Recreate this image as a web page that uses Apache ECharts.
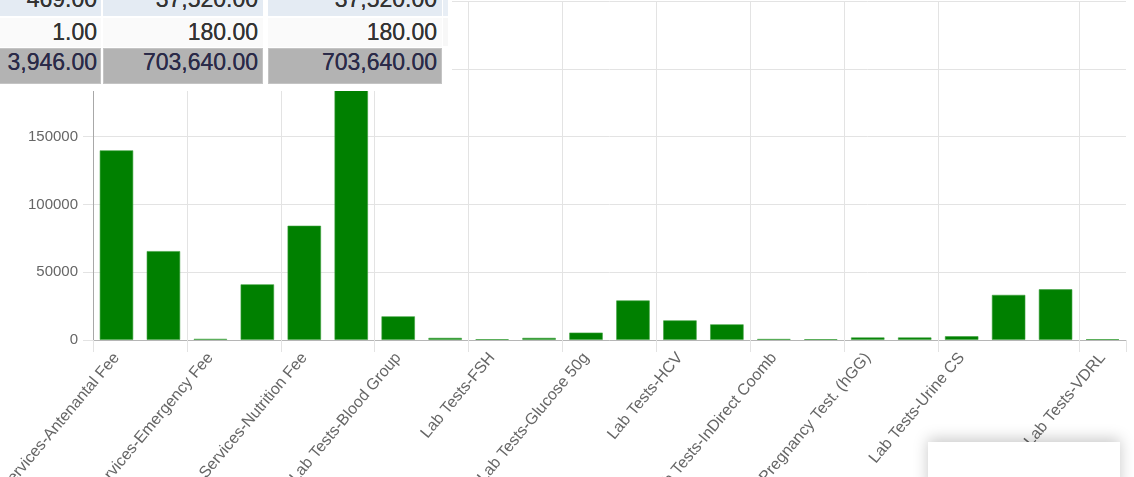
<!DOCTYPE html>
<html>
<head>
<meta charset="utf-8">
<script src="https://cdn.jsdelivr.net/npm/echarts@6/dist/echarts.min.js"></script>
<style>
  html, body { margin: 0; padding: 0; background: #fff; overflow: hidden; }
  #wrap { position: relative; width: 1134px; height: 477px; }
  #chart { position: absolute; left: 0; top: 0; width: 1134px; height: 477px; }
  #tbl { position: absolute; left: 0; top: 0; width: 452px; height: 91px; background: #fff; overflow: hidden;
         font-family: "Liberation Sans", Arial, sans-serif; font-size: 23px; }
  .cell { position: absolute; box-sizing: border-box; }
  .txt { position: absolute; line-height: 23px; white-space: nowrap; text-align: right; }
  #popup { position: absolute; left: 928px; top: 442px; width: 192px; height: 50px; background: #fff;
           box-shadow: 0 -3px 14px rgba(0,0,0,0.22); }
</style>
</head>
<body>
<div id="wrap">
  <div id="chart"></div>
  <div id="tbl"></div>
  <div id="popup"></div>
</div>
<script>
// ---- chart data ----
const categories = [
  "Services-Antenantal Fee", "Services-Delivery Fee", "Services-Emergency Fee", "Services-Lab Fee",
  "Services-Nutrition Fee", "Services-Ultrasound Fee", "Lab Tests-Blood Group", "Lab Tests-CBC",
  "Lab Tests-FSH", "Lab Tests-Glucose 100g", "Lab Tests-Glucose 50g", "Lab Tests-HBsAg",
  "Lab Tests-HCV", "Lab Tests-HIV", "Lab Tests-InDirect Coomb", "Lab Tests-OGTT",
  "Lab Tests-Pregnancy Test. (hGG)", "Lab Tests-Rh Factor", "Lab Tests-Urine CS", "Lab Tests-Urine RE",
  "Lab Tests-Urine Sugar", "Lab Tests-VDRL"
];
const values = [140000, 65700, 1000, 41200, 84400, 208840, 17600, 1700, 700, 1700, 5600,
                29300, 14600, 11700, 900, 700, 2000, 2000, 2900, 33400, 37520, 180];
const shownLabels = [0, 2, 4, 6, 8, 10, 12, 14, 16, 18, 21];

// ---- overlay table data (last visible rows + total) ----
const tableQty = ["469.00", "1.00"];
const tableAmount = ["37,520.00", "180.00"];
const tableNet = ["37,520.00", "180.00"];
const totalRow = ["3,946.00", "703,640.00", "703,640.00"];

// build table overlay
(function () {
  const tbl = document.getElementById('tbl');
  const cols = [{l: -10, w: 111, pad: 4}, {l: 103, w: 160, pad: 5}, {l: 268, w: 174, pad: 5}];
  const rows = [
    {t: -14, h: 30, bg: '#e4ebf3', color: '#333', base: 7, vals: [tableQty[0], tableAmount[0], tableNet[0]]},
    {t: 18, h: 28.5, bg: '#fafafa', color: '#333', base: 40, vals: [tableQty[1], tableAmount[1], tableNet[1]]},
    {t: 48, h: 36, bg: '#b3b3b3', color: '#2a2a48', base: 70.5, vals: totalRow}
  ];
  rows.forEach(r => {
    cols.forEach((c, i) => {
      const d = document.createElement('div');
      d.className = 'cell';
      d.style.cssText = `left:${c.l}px;top:${r.t}px;width:${c.w}px;height:${r.h}px;background:${r.bg};`;
      if (r.bg === '#b3b3b3') d.style.border = '1px solid #c4c4c4';
      tbl.appendChild(d);
      const t = document.createElement('div');
      t.className = 'txt';
      t.textContent = r.vals[i];
      t.style.cssText += `left:${c.l}px;width:${c.w - c.pad}px;top:${r.base - 19.5}px;color:${r.color};` +
        'text-shadow:0 0 0.6px ' + r.color + ';';
      tbl.appendChild(t);
    });
  });
  const s1 = document.createElement('div');
  s1.className = 'cell';
  s1.style.cssText = 'left:443px;top:-14px;width:5px;height:30px;background:#e8eef5;';
  tbl.appendChild(s1);
  const s2 = document.createElement('div');
  s2.className = 'cell';
  s2.style.cssText = 'left:443px;top:18px;width:5px;height:28px;background:#f7f7f7;';
  tbl.appendChild(s2);
})();

const isShown = (i) => shownLabels.indexOf(i) >= 0;
const gridColor = '#e3e3e3';

const chart = echarts.init(document.getElementById('chart'), null, {renderer: 'canvas'});
chart.setOption({
  animation: false,
  textStyle: {fontFamily: '"Liberation Sans", Arial, sans-serif'},
  grid: {left: 93, right: 8, top: 1, bottom: 137, containLabel: false, outerBoundsMode: 'none'},
  xAxis: {
    type: 'category',
    data: categories,
    boundaryGap: true,
    axisLine: {show: true, lineStyle: {color: '#b5b5b5', width: 1}},
    axisTick: {show: true, length: 12, interval: (i) => isShown(i), lineStyle: {color: gridColor}},
    splitLine: {show: true, interval: (i) => isShown(i), showMaxLine: false,
                lineStyle: {color: gridColor, width: 1}},
    axisLabel: {
      interval: (i) => isShown(i),
      rotate: 50,
      margin: 15,
      fontSize: 16,
      color: '#666',
      hideOverlap: false
    }
  },
  yAxis: {
    type: 'value',
    min: 0,
    max: 250000,
    interval: 50000,
    axisLine: {show: true, lineStyle: {color: '#a8a8a8', width: 1}},
    axisTick: {show: true, length: 10, lineStyle: {color: gridColor}},
    splitLine: {show: true, lineStyle: {color: gridColor, width: 1}},
    axisLabel: {margin: 15, fontSize: 15, color: '#666', formatter: (v) => String(v)}
  },
  series: [{
    type: 'bar',
    data: values,
    barWidth: '72%',
    barMinHeight: 1,
    itemStyle: {color: '#008000', borderColor: 'rgba(60,160,60,0.6)', borderWidth: 1}
  }]
});
</script>
</body>
</html>
